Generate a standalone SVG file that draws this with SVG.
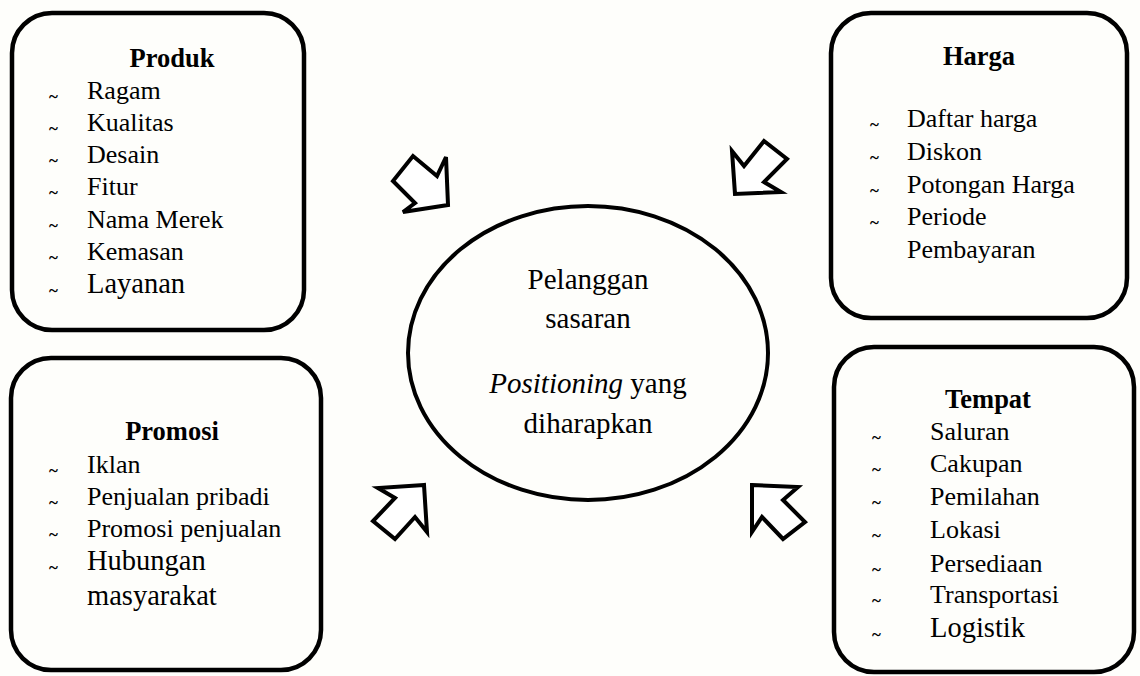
<svg xmlns="http://www.w3.org/2000/svg" width="1140" height="676" viewBox="0 0 1140 676">
<defs>
<style>
.box{fill:none;stroke:#000;stroke-width:4.5}
.ell{fill:none;stroke:#000;stroke-width:4}
.arr{fill:#fff;stroke:#000;stroke-width:4;stroke-linejoin:miter}
text{font-family:"Liberation Serif","Times New Roman",serif;fill:#000}
.t{font-size:26.5px;font-weight:bold;text-anchor:middle}
.i{font-size:26px}
.ib{font-size:28.5px}
.d{font-size:17px;font-weight:bold}
.c{font-size:29px;text-anchor:middle}
</style>
</defs>
<rect width="1140" height="676" fill="#fefefb"/>
<g id="produk">
<rect class="box" x="12" y="13" width="292" height="317" rx="40"/>
<text class="t" x="172" y="67">Produk</text>
<text class="d" x="49" y="102">~</text><text class="i" x="87" y="99">Ragam</text>
<text class="d" x="49" y="134">~</text><text class="i" x="87" y="131">Kualitas</text>
<text class="d" x="49" y="166">~</text><text class="i" x="87" y="163">Desain</text>
<text class="d" x="49" y="198">~</text><text class="i" x="87" y="195">Fitur</text>
<text class="d" x="49" y="231">~</text><text class="i" x="87" y="228">Nama Merek</text>
<text class="d" x="49" y="263">~</text><text class="i" x="87" y="260">Kemasan</text>
<text class="d" x="49" y="296">~</text><text class="ib" x="87" y="293">Layanan</text>
</g>
<g id="harga">
<rect class="box" x="831" y="13" width="296" height="305" rx="40"/>
<text class="t" x="979" y="65">Harga</text>
<text class="d" x="870" y="130">~</text><text class="i" x="907" y="127">Daftar harga</text>
<text class="d" x="870" y="163">~</text><text class="i" x="907" y="160">Diskon</text>
<text class="d" x="870" y="196">~</text><text class="i" x="907" y="193">Potongan Harga</text>
<text class="d" x="870" y="228">~</text><text class="i" x="907" y="225">Periode</text>
<text class="i" x="907" y="258">Pembayaran</text>
</g>
<g id="promosi">
<rect class="box" x="11" y="358" width="310" height="312" rx="40"/>
<text class="t" x="172" y="440">Promosi</text>
<text class="d" x="49" y="476">~</text><text class="i" x="87" y="473">Iklan</text>
<text class="d" x="49" y="508">~</text><text class="i" x="87" y="505">Penjualan pribadi</text>
<text class="d" x="49" y="540">~</text><text class="i" x="87" y="537">Promosi penjualan</text>
<text class="d" x="49" y="573">~</text><text class="ib" x="87" y="570">Hubungan</text>
<text class="ib" x="87" y="605">masyarakat</text>
</g>
<g id="tempat">
<rect class="box" x="834" y="347" width="300" height="325" rx="40"/>
<text class="t" x="988" y="408">Tempat</text>
<text class="d" x="872" y="443">~</text><text class="i" x="930" y="440">Saluran</text>
<text class="d" x="872" y="475">~</text><text class="i" x="930" y="472">Cakupan</text>
<text class="d" x="872" y="508">~</text><text class="i" x="930" y="505">Pemilahan</text>
<text class="d" x="872" y="541">~</text><text class="i" x="930" y="538">Lokasi</text>
<text class="d" x="872" y="575">~</text><text class="i" x="930" y="572">Persediaan</text>
<text class="d" x="872" y="606">~</text><text class="i" x="930" y="603">Transportasi</text>
<text class="d" x="872" y="640">~</text><text class="ib" x="930" y="637">Logistik</text>
</g>
<g id="pelanggan">
<ellipse class="ell" cx="588" cy="353" rx="180" ry="147"/>
<text class="c" x="588" y="289">Pelanggan</text>
<text class="c" x="588" y="328">sasaran</text>
<text class="c" x="588" y="393"><tspan font-style="italic">Positioning</tspan> yang</text>
<text class="c" x="588" y="433">diharapkan</text>
</g>
<g id="connectors">
<polygon class="arr" points="448,205 446,157 437,176 413,156 393,181 415,203 403,212"/>
<polygon class="arr" points="735,194 732,151 744,166 764,141 787,159 764,182 781,192"/>
<polygon class="arr" points="424,485 378,488 395,498 373,521 395,539 415,517 427,532"/>
<polygon class="arr" points="752,485 798,487 783,500 805,522 783,539 762,517 752,532"/>
</g>
</svg>
